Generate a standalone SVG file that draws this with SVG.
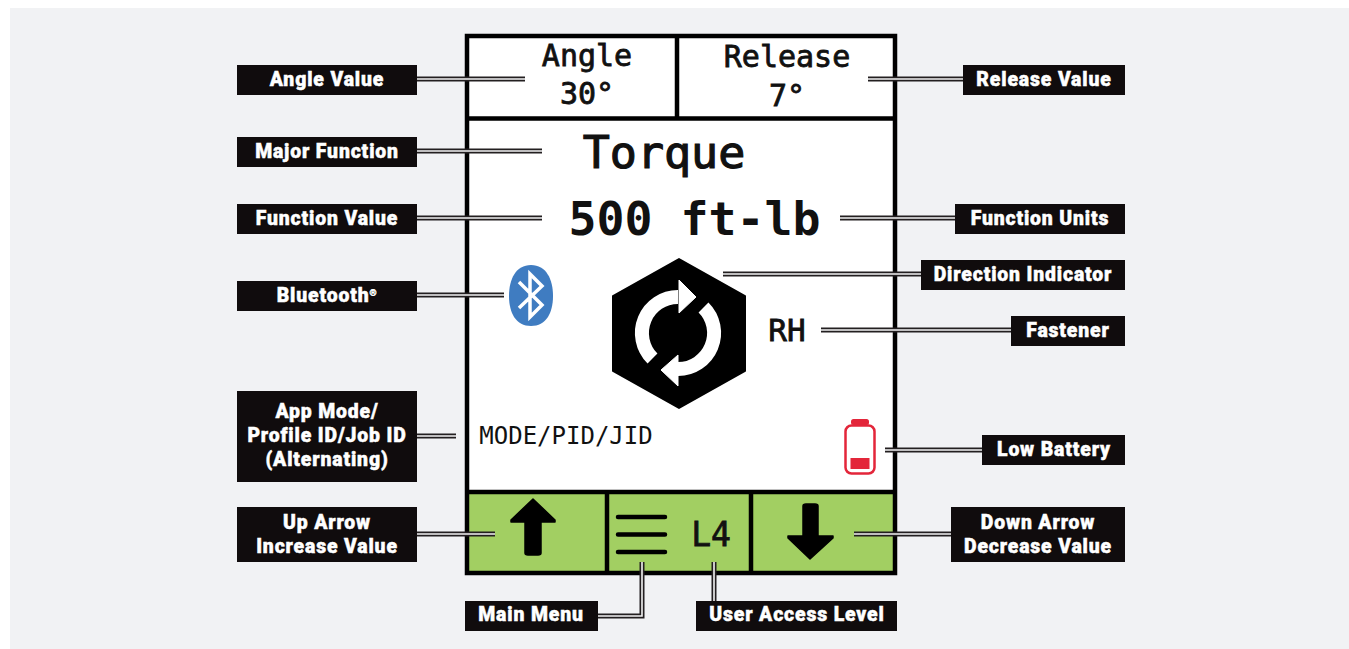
<svg xmlns="http://www.w3.org/2000/svg" width="1349" height="649" viewBox="0 0 1349 649">
<style>
.lb{fill:#100c0d}
.lt{fill:#fff;stroke:#fff;stroke-width:.45;font:900 19.400px Roboto,"Liberation Sans",sans-serif;letter-spacing:.85px;text-anchor:middle}
.m{fill:#111;font-family:"DejaVu Sans Mono",monospace;text-anchor:middle}
.s{stroke:#111;stroke-width:.8}
.o{fill:none;stroke:#231f20;stroke-width:5}
.i{fill:none;stroke:#f4f4f4;stroke-width:1.6}
.f{fill:none;stroke:#000;stroke-width:4.500}
</style>
<rect width="1349" height="649" fill="#fff"/>
<rect x="10" y="8" width="1339" height="641" fill="#f1f2f4"/>
<g id="display">
<rect x="467" y="36" width="428" height="537" fill="#fff"/>
<rect x="467" y="492" width="428" height="81" fill="#a2cf62"/>
<rect class="f" x="467" y="36" width="428" height="537"/>
<path class="f" d="M467 118.500H895M677 36V118.500M467 492H895M607 492V573M751 492V573"/>
</g>
<g id="angle"><text class="m s" x="587" y="66" font-size="30">Angle</text><text class="m s" x="587" y="104" font-size="30">30°</text></g>
<g id="release"><text class="m s" x="787" y="67" font-size="30">Release</text><text class="m s" x="787" y="106" font-size="30">7°</text></g>
<g id="torque"><text class="m s" x="664" y="168" font-size="45" style="stroke-width:1.200">Torque</text></g>
<g id="value"><text class="m" x="694.500" y="235" font-size="46.500" font-weight="700">500 ft-lb</text></g>
<g id="bluetooth">
<path d="M531 265C546 265 553 279 553 296C553 313 546 326 531 326C516 326 509 313 509 296C509 279 516 265 531 265Z" fill="#3f7cc1"/>
<path d="M519 282L542 305L530 317V274L542 286L519 308" fill="none" stroke="#fff" stroke-width="3.500"/>
</g>
<g id="direction">
<path d="M679 259L745 296V371L679 408L613 371V296Z" fill="#000" stroke="#000" stroke-width="2" stroke-linejoin="round"/>
<path d="M652.500 358.500A36 36 0 0 1 678 297" fill="none" stroke="#fff" stroke-width="14"/>
<path d="M679 280L696 297L679 313Z" fill="#fff" stroke="#fff"/>
<path d="M703.500 307.500A36 36 0 0 1 678 369" fill="none" stroke="#fff" stroke-width="14"/>
<path d="M678 355L661 370L678 386Z" fill="#fff" stroke="#fff"/>
</g>
<g id="fastener"><text class="m s" x="787" y="341" font-size="31">RH</text></g>
<g id="mode"><text class="m" x="566" y="444" font-size="24">MODE/PID/JID</text></g>
<g id="battery">
<rect x="845.500" y="425.500" width="29" height="48" rx="6" fill="#fff" stroke="#e3263a" stroke-width="2.500"/>
<rect x="851" y="419" width="18" height="6" rx="2.500" fill="#e3263a"/>
<rect x="850.500" y="458" width="19" height="11" fill="#e3263a"/>
</g>
<g id="up-arrow"><path d="M533 499L555 520V522H541V553Q541 555 538 555H528Q525 555 525 553V522H511V520Z" fill="#000" stroke="#000" stroke-width="1.500" stroke-linejoin="round"/></g>
<g id="menu"><path d="M618 517H665M618 534.500H665M618 552H665" stroke="#000" stroke-width="4.500" stroke-linecap="round"/><text class="m s" x="711" y="546" font-size="33">L4</text></g>
<g id="down-arrow"><path d="M810 559L788 538V536H803V506Q803 504 806 504H815Q818 504 818 506V536H833V538Z" fill="#000" stroke="#000" stroke-width="1.500" stroke-linejoin="round"/></g>
<g id="connectors">
<path class="o" d="M417 79H525M417 151H542M417 218H542M417 295H504M417 436H456M417 534H495M868 79H963M840 218H955M723 274H921M821 330H1011M885 450H982M854 534H951M642 562V616H598M714 562V601"/>
<path class="i" d="M417 79H525M417 151H542M417 218H542M417 295H504M417 436H456M417 534H495M868 79H963M840 218H955M723 274H921M821 330H1011M885 450H982M854 534H951M642 562V616H598M714 562V601"/>
</g>
<g id="label-angle"><rect class="lb" x="237" y="65" width="180" height="30"/><text class="lt" x="327" y="86">Angle Value</text></g>
<g id="label-major"><rect class="lb" x="237" y="137" width="180" height="30"/><text class="lt" x="327" y="158">Major Function</text></g>
<g id="label-value"><rect class="lb" x="237" y="204" width="180" height="30"/><text class="lt" x="327" y="225">Function Value</text></g>
<g id="label-bt"><rect class="lb" x="237" y="281" width="180" height="30"/><text class="lt" x="327" y="302">Bluetooth<tspan font-size="9" dy="-6">®</tspan></text></g>
<g id="label-app"><rect class="lb" x="237" y="391" width="180" height="91"/><text class="lt" x="327" y="418">App Mode/</text><text class="lt" x="327" y="442">Profile ID/Job ID</text><text class="lt" x="327" y="466">(Alternating)</text></g>
<g id="label-up"><rect class="lb" x="237" y="507" width="180" height="55"/><text class="lt" x="327" y="529">Up Arrow</text><text class="lt" x="327" y="553">Increase Value</text></g>
<g id="label-menu"><rect class="lb" x="465" y="601" width="133" height="30"/><text class="lt" x="531" y="621">Main Menu</text></g>
<g id="label-access"><rect class="lb" x="696" y="601" width="201" height="30"/><text class="lt" x="797" y="621">User Access Level</text></g>
<g id="label-release"><rect class="lb" x="963" y="65" width="162" height="30"/><text class="lt" x="1044" y="86">Release Value</text></g>
<g id="label-units"><rect class="lb" x="955" y="204" width="170" height="30"/><text class="lt" x="1040" y="225">Function Units</text></g>
<g id="label-direction"><rect class="lb" x="921" y="260" width="204" height="30"/><text class="lt" x="1023" y="281">Direction Indicator</text></g>
<g id="label-fastener"><rect class="lb" x="1011" y="316" width="114" height="30"/><text class="lt" x="1068" y="337">Fastener</text></g>
<g id="label-battery"><rect class="lb" x="982" y="435" width="143" height="30"/><text class="lt" x="1054" y="456">Low Battery</text></g>
<g id="label-down"><rect class="lb" x="951" y="507" width="174" height="55"/><text class="lt" x="1038" y="529">Down Arrow</text><text class="lt" x="1038" y="553">Decrease Value</text></g>
</svg>
